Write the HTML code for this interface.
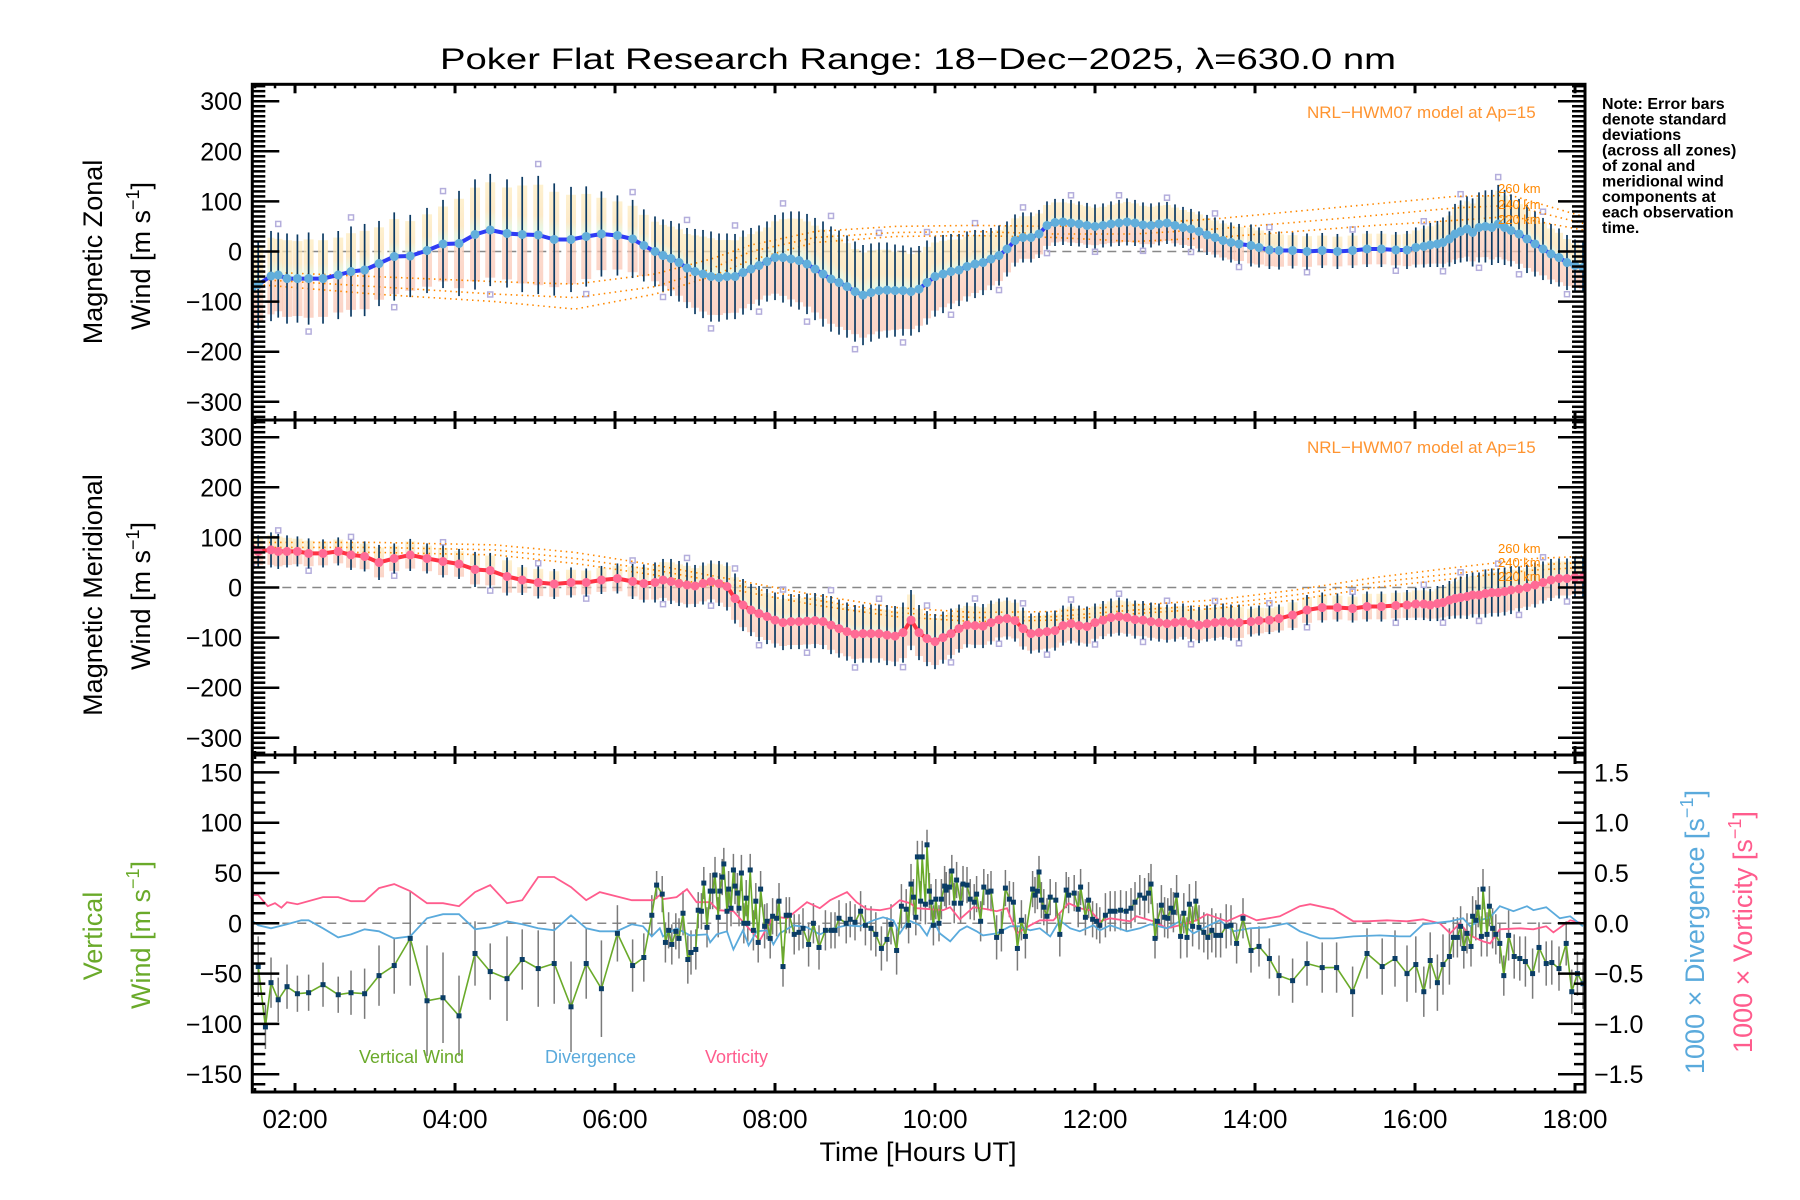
<!DOCTYPE html>
<html><head><meta charset="utf-8"><title>Poker Flat Research Range winds</title>
<style>
html,body{margin:0;padding:0;background:#fff;}
svg{display:block;font-family:"Liberation Sans",sans-serif;}
</style></head>
<body>
<svg id="chart" width="1800" height="1200" viewBox="0 0 1800 1200" xmlns="http://www.w3.org/2000/svg">
<defs>
<linearGradient id="bandGrad" x1="0" y1="0" x2="0" y2="1">
<stop offset="0" stop-color="#fdebbb"/><stop offset="0.3" stop-color="#fce0b0"/>
<stop offset="0.45" stop-color="#dcf4dc"/><stop offset="0.55" stop-color="#fbcdb8"/>
<stop offset="1" stop-color="#f9c2b0"/></linearGradient>
<clipPath id="clip1"><rect x="253" y="86" width="1331" height="333"/></clipPath>
<clipPath id="clip2"><rect x="253" y="422" width="1331" height="332"/></clipPath>
<clipPath id="clip3"><rect x="253" y="757" width="1331" height="334"/></clipPath>
</defs>
<rect x="0" y="0" width="1800" height="1200" fill="#fff"/>
<text x="918" y="69" font-size="30" text-anchor="middle" textLength="956" lengthAdjust="spacingAndGlyphs">Poker Flat Research Range: 18−Dec−2025, λ=630.0 nm</text>
<g id="layer1" clip-path="url(#clip1)"></g>
<g id="layer2" clip-path="url(#clip2)"></g>
<g id="layer3" clip-path="url(#clip3)"></g>
<g id="axes"></g>
<text transform="translate(102,252) rotate(-90)" font-size="27" text-anchor="middle">Magnetic Zonal</text>
<text transform="translate(150,256) rotate(-90)" font-size="27" text-anchor="middle">Wind [m s<tspan font-size="18" dy="-11">−1</tspan><tspan dy="11">]</tspan></text>
<text transform="translate(102,595) rotate(-90)" font-size="27" text-anchor="middle">Magnetic Meridional</text>
<text transform="translate(150,596) rotate(-90)" font-size="27" text-anchor="middle">Wind [m s<tspan font-size="18" dy="-11">−1</tspan><tspan dy="11">]</tspan></text>
<text transform="translate(102,936) rotate(-90)" font-size="27" text-anchor="middle" fill="#6aaa2a">Vertical</text>
<text transform="translate(150,935) rotate(-90)" font-size="27" text-anchor="middle" fill="#6aaa2a">Wind [m s<tspan font-size="18" dy="-11">−1</tspan><tspan dy="11">]</tspan></text>
<text transform="translate(1704,932) rotate(-90)" font-size="27" text-anchor="middle" fill="#5aaadc">1000 × Divergence [s<tspan font-size="18" dy="-11">−1</tspan><tspan dy="11">]</tspan></text>
<text transform="translate(1752,932) rotate(-90)" font-size="27" text-anchor="middle" fill="#ff5c8d">1000 × Vorticity [s<tspan font-size="18" dy="-11">−1</tspan><tspan dy="11">]</tspan></text>
<text x="918" y="1161" font-size="27" text-anchor="middle">Time [Hours UT]</text>
<text x="1307" y="118" font-size="17" fill="#ff9430">NRL−HWM07 model at Ap=15</text>
<text x="1307" y="453" font-size="17" fill="#ff9430">NRL−HWM07 model at Ap=15</text>
<g font-size="13" fill="#ff8800">
<text x="1498" y="193">260 km</text>
<text x="1498" y="209">240 km</text>
<text x="1498" y="224">220 km</text></g>
<g font-size="13" fill="#ff8800">
<text x="1498" y="553">260 km</text>
<text x="1498" y="567">240 km</text>
<text x="1498" y="581">220 km</text></g>
<g font-size="16" font-weight="bold">
<text x="1602" y="109">Note: Error bars</text>
<text x="1602" y="124.5">denote standard</text>
<text x="1602" y="140">deviations</text>
<text x="1602" y="155.5">(across all zones)</text>
<text x="1602" y="171">of zonal and</text>
<text x="1602" y="186.5">meridional wind</text>
<text x="1602" y="202">components at</text>
<text x="1602" y="217.5">each observation</text>
<text x="1602" y="233">time.</text></g>
<text x="359" y="1063" font-size="18" fill="#6aaa2a">Vertical Wind</text>
<text x="545" y="1063" font-size="18" fill="#5aaadc">Divergence</text>
<text x="705" y="1063" font-size="18" fill="#ff5c8d">Vorticity</text>
</svg>
<script>
// ---------- DATA ----------
const obsTimes = [1.46,1.54,1.70,1.79,1.90,2.03,2.17,2.35,2.54,2.70,2.87,3.05,3.24,3.44,3.65,3.85,4.05,4.25,4.44,4.65,4.84,5.04,5.24,5.45,5.64,5.83,6.03,6.22,6.36,
6.5,6.6,6.7,6.8,6.9,7.0,7.1,7.2,7.3,7.4,7.5,7.6,7.7,7.8,7.9,8.0,8.1,8.2,8.3,8.4,8.5,8.6,8.7,8.8,8.9,9.0,9.1,9.2,9.3,9.4,9.5,9.6,9.7,9.8,9.9,10.0,10.1,10.2,10.3,10.4,10.5,10.6,10.7,10.8,10.9,11.0,11.1,11.2,11.3,11.4,11.5,11.6,11.7,11.8,11.9,12.0,12.1,12.2,12.3,12.4,12.5,12.6,12.7,12.8,12.9,13.0,13.1,13.2,13.3,13.4,13.5,13.6,13.7,13.8,
13.95,14.05,14.18,14.30,14.47,14.65,14.84,15.03,15.22,15.40,15.58,15.76,15.90,16.01,16.11,16.19,16.28,16.35,
16.43,16.5,16.57,16.65,16.72,16.8,16.88,16.96,17.04,17.12,17.2,17.3,17.4,17.5,17.6,17.7,17.8,17.9,18.0,18.1];
const zonalMean = [-73,-66,-49,-47,-54,-54,-54,-54,-47,-40,-37,-24,-10,-9,2,15,16,34,43,36,34,33,24,24,30,35,32,25,12,
0,-8,-14,-22,-33,-40,-45,-50,-52,-50,-50,-42,-35,-28,-20,-12,-12,-15,-18,-25,-35,-45,-55,-62,-70,-80,-87,-82,-78,-77,-78,-78,-80,-75,-62,-50,-45,-40,-37,-30,-25,-22,-15,-8,5,22,28,28,35,52,58,59,57,55,52,50,52,55,57,59,57,53,52,55,57,52,48,45,40,33,28,22,18,15,
12,8,3,2,2,0,2,0,2,5,5,3,3,8,10,13,15,18,
25,35,40,45,38,48,50,48,55,48,42,35,25,15,5,-5,-12,-22,-28,-32];
const zonalStd = [92,88,90,85,90,88,92,90,88,90,92,85,88,82,85,88,105,110,112,108,115,118,112,105,100,85,80,78,72,
70,72,75,78,80,85,88,90,88,86,85,84,82,80,80,85,90,95,98,100,102,105,105,104,102,100,100,98,96,95,92,90,88,86,84,80,78,75,72,70,68,65,62,60,55,52,50,50,48,48,47,46,46,45,45,44,44,45,46,47,46,45,44,43,42,42,41,40,40,40,40,40,40,40,
42,40,38,38,36,36,35,35,35,36,36,36,38,40,42,44,46,50,
55,60,62,65,68,70,72,75,78,75,72,70,68,65,62,60,58,55,52,50];
const meridMean = [78,72,75,72,72,72,68,68,72,65,62,50,58,65,58,52,47,36,34,22,15,10,7,10,10,15,18,12,8,
10,15,12,8,5,3,8,12,8,2,-22,-35,-45,-52,-58,-65,-70,-68,-68,-67,-66,-68,-75,-82,-88,-93,-92,-92,-92,-95,-97,-90,-65,-90,-102,-108,-100,-92,-82,-75,-76,-77,-70,-64,-62,-66,-82,-92,-90,-88,-86,-76,-72,-76,-78,-70,-65,-60,-58,-60,-64,-65,-68,-70,-72,-70,-68,-72,-75,-72,-70,-68,-70,-70,
-68,-66,-65,-62,-55,-45,-40,-40,-42,-38,-38,-36,-35,-33,-33,-35,-32,-30,
-25,-22,-20,-18,-15,-15,-12,-10,-10,-8,-5,-3,0,5,10,15,18,18,20,20];
const meridStd = [30,32,35,35,32,30,30,28,28,30,30,35,30,32,30,32,30,35,35,38,30,32,30,30,28,28,30,35,38,
40,42,45,45,45,42,42,42,45,48,50,52,52,55,55,55,55,55,55,55,55,55,58,58,58,58,58,58,58,60,60,60,60,55,55,55,52,50,48,45,45,44,44,42,42,42,42,40,40,40,40,40,40,40,40,38,38,38,38,38,38,38,38,38,38,38,36,36,36,36,36,36,36,36,
30,30,28,28,30,30,30,28,28,30,30,30,30,32,32,32,35,35,
38,40,42,45,45,45,48,48,48,48,48,45,45,45,42,42,40,40,40,40];
const modelTimes = [1.47,3,4.5,5.5,6.5,7.2,7.7,8.5,9.5,10.5,11.5,12.5,13.5,14.5,15.5,16.5,17.2,18.1];
const zonalModel260 = [-40,-50,-60,-65,-45,-15,13,40,50,52,50,55,65,80,95,110,112,70];
const zonalModel240 = [-55,-70,-85,-92,-70,-35,0,28,38,40,35,35,45,58,72,87,92,56];
const zonalModel220 = [-65,-85,-100,-115,-85,-50,-17,18,30,32,28,20,28,40,52,62,70,43];
const meridModelTimes = [1.47,3,4.5,5.5,6.5,7.5,8.5,9.5,10.5,11.5,12.5,13.5,14.5,15.5,16.5,17.5,18.1];
const meridModel260 = [90,90,85,70,45,15,-15,-40,-50,-48,-35,-25,-5,20,40,58,62];
const meridModel240 = [80,80,75,58,35,5,-25,-50,-60,-58,-45,-35,-15,10,28,45,50];
const meridModel220 = [70,70,65,48,25,-5,-35,-58,-68,-65,-52,-42,-25,0,18,35,40];
const vertTimes = [1.54,1.63,1.70,1.79,1.90,2.03,2.17,2.35,2.54,2.70,2.87,3.05,3.24,3.44,3.65,3.85,4.05,4.25,4.44,4.65,4.84,5.04,5.24,5.45,5.64,
5.83,6.03,6.22,6.36,6.46,6.52,6.59,6.63,6.67,6.71,6.76,6.80,6.85,6.91,6.95,7.01,7.04,7.08,7.11,7.15,7.19,7.22,7.25,7.29,7.31,7.34,7.36,7.40,7.42,7.45,7.48,7.50,7.53,7.55,7.58,7.61,7.64,7.66,7.69,7.73,7.76,7.79,7.82,7.87,7.90,7.94,7.97,8.02,8.05,8.10,8.14,8.18,8.24,8.30,8.35,8.42,8.48,8.55,8.63,8.70,8.75,8.80,8.89,8.94,9.00,9.07,9.13,9.20,9.26,9.33,9.40,9.45,9.52,9.58,9.64,9.67,9.70,9.73,9.76,9.78,9.82,9.84,9.88,9.90,9.93,9.95,9.98,10.01,10.05,10.08,10.12,10.14,10.18,10.21,10.24,10.27,10.32,10.35,10.40,10.44,10.49,10.52,10.57,10.61,10.66,10.70,10.77,10.83,10.88,10.93,10.98,11.03,11.08,11.13,11.22,11.25,11.28,11.30,11.33,11.36,11.40,11.44,11.51,11.56,11.64,11.67,11.74,11.79,11.82,11.88,11.92,11.97,12.02,
12.06,12.13,12.19,12.25,12.32,12.39,12.45,12.50,12.56,12.62,12.67,12.70,12.75,12.78,12.83,12.87,12.91,12.95,12.98,13.02,13.07,13.11,13.15,13.18,13.22,13.26,13.30,13.36,13.41,13.46,13.51,13.57,13.64,13.70,13.77,13.85,13.95,14.05,14.18,14.30,14.47,14.65,14.84,15.02,15.22,15.40,15.59,15.75,15.90,16.01,16.11,16.19,16.28,16.35,16.43,16.48,16.53,16.57,16.61,16.65,16.70,16.72,16.76,16.79,16.83,16.85,16.90,16.93,16.97,17.01,17.06,17.11,17.17,17.24,17.31,17.38,17.47,17.55,17.64,17.71,17.80,17.89,17.96,18.03,18.10];
const vertWind = [-43,-103,-59,-76,-63,-70,-69,-61,-71,-69,-70,-52,-42,-15,-77,-74,-92,-30,-48,-55,-36,-45,-40,-83,-40,
-65,-10,-42,-34,8,38,29,-19,-7,-21,-8,-15,10,-36,-29,-26,13,12,40,-4,32,32,48,6,32,46,59,12,34,15,53,37,30,15,50,0,25,0,53,-7,22,-19,34,-3,2,-15,7,5,22,-43,8,8,-11,-9,-5,-21,0,-24,-7,-7,-7,5,0,4,1,12,-2,-5,-11,-25,-16,-1,-27,17,14,-2,39,26,6,66,22,66,19,78,32,21,-2,24,0,24,37,33,36,52,20,43,20,39,38,24,21,29,2,36,31,32,-14,-8,35,24,21,-25,3,-13,34,28,32,51,23,16,7,26,23,-11,33,28,30,14,36,6,23,4,2,
-2,8,12,12,13,12,15,21,28,25,30,39,-15,2,18,6,5,15,11,28,-13,10,-14,19,-3,22,-4,-9,-14,-7,-12,-12,-3,-2,-20,5,-27,-23,-35,-52,-57,-40,-44,-44,-68,-30,-43,-35,-50,-41,-68,-37,-59,-41,-33,-14,-14,-3,-25,-10,-23,7,3,16,-13,34,-11,17,-5,-11,-20,-52,-12,-33,-35,-38,-50,-24,-40,-39,-45,-20,-68,-50,-60];
const vertStd = [30,22,25,22,22,18,18,22,18,22,25,30,28,47,55,45,40,32,28,42,30,38,40,45,35,
48,28,26,24,20,14,18,20,18,20,18,20,22,24,22,20,18,18,16,20,18,18,18,20,18,18,16,20,18,18,16,18,20,18,18,20,18,18,16,20,18,20,18,22,18,20,18,18,18,20,18,18,20,18,20,22,20,22,20,18,18,18,20,18,18,20,20,22,22,22,22,20,24,22,20,18,20,18,18,16,20,16,20,15,18,18,20,20,18,20,20,18,18,16,20,18,20,18,18,20,18,18,20,18,18,20,22,20,18,18,20,22,20,22,18,18,18,16,18,18,18,18,18,22,18,18,18,18,18,18,18,18,18,18,
22,20,20,20,20,20,20,20,20,20,20,20,18,20,20,20,20,20,20,22,20,20,20,20,20,22,20,22,22,22,22,22,20,20,20,22,20,20,20,22,22,25,25,25,25,28,28,28,28,25,28,28,30,28,20,20,20,20,20,20,20,20,20,20,20,22,20,20,20,20,20,25,22,22,25,25,25,22,22,22,22,22,22,25,22];
const vortTimes = [1.46,1.54,1.66,1.75,1.83,1.90,2.03,2.35,2.54,2.70,2.87,3.05,3.24,3.44,3.65,3.85,4.05,4.25,4.44,4.65,4.84,5.04,5.24,5.45,5.64,5.81,6.21,6.48,6.56,6.60,6.77,6.90,7.02,7.19,7.29,7.48,7.65,7.81,7.98,8.15,8.23,8.40,8.56,8.69,8.90,9.02,9.15,9.31,9.44,9.56,9.69,9.77,9.94,10.10,10.19,10.31,10.48,10.65,10.77,10.90,11.02,11.19,11.31,11.48,11.67,11.81,11.94,12.06,12.19,12.44,12.52,12.73,12.90,13.06,13.27,13.40,13.65,13.85,14.02,14.31,14.56,14.69,14.98,15.23,15.40,15.65,15.90,16.10,16.31,16.44,16.56,16.69,16.85,16.94,17.06,17.31,17.48,17.64,17.73,17.94,18.10];
const vortValues = [0.28,0.28,0.17,0.20,0.155,0.21,0.19,0.26,0.26,0.22,0.22,0.35,0.39,0.32,0.20,0.20,0.17,0.31,0.38,0.20,0.23,0.46,0.46,0.36,0.23,0.31,0.23,0.23,0.28,0.24,0.26,0.34,0.21,0.21,0.13,0.12,-0.03,-0.17,0.07,0.05,0.10,0.21,0.15,0.23,0.31,0.21,0.14,0.13,0.15,0.23,0.20,0.15,0.14,0.13,0.16,0.04,0.16,0.14,0.12,0.15,-0.10,-0.02,0.03,0.03,0.20,0.15,0.13,0.02,0.05,0.02,0.07,0.02,-0.05,-0.02,0.03,0.09,0.02,0.09,0.03,0.07,0.17,0.19,0.14,0.02,0.02,0.03,0.02,0.04,0.0,-0.10,0.0,-0.12,-0.18,-0.20,-0.06,-0.05,-0.06,-0.03,-0.09,0.03,0.0];
const divTimes = [1.46,1.54,1.70,1.90,2.08,2.17,2.35,2.54,2.70,2.87,3.05,3.24,3.44,3.65,3.85,4.05,4.25,4.44,4.65,4.84,5.04,5.24,5.45,5.64,5.81,6.02,6.21,6.35,6.46,6.56,6.60,6.77,6.94,7.15,7.19,7.27,7.40,7.48,7.60,7.67,7.77,7.90,7.98,8.06,8.23,8.40,8.56,8.73,8.90,9.06,9.23,9.35,9.48,9.56,9.67,9.81,9.90,9.98,10.06,10.19,10.31,10.40,10.52,10.60,10.77,10.94,11.06,11.19,11.31,11.44,11.56,11.69,11.81,11.98,12.06,12.19,12.40,12.56,12.69,12.90,13.06,13.23,13.40,13.56,13.73,13.94,14.15,14.40,14.56,14.81,14.98,15.23,15.56,15.81,15.94,16.10,16.44,16.60,16.69,16.81,16.94,17.06,17.23,17.40,17.48,17.64,17.81,17.94,18.10];
const divValues = [0.03,-0.02,-0.05,-0.01,0.03,0.03,-0.05,-0.14,-0.11,-0.06,-0.08,-0.15,-0.13,0.05,0.09,0.09,-0.06,-0.04,0.02,-0.01,-0.05,-0.07,0.08,-0.05,-0.08,-0.08,-0.01,-0.03,-0.13,-0.05,-0.13,-0.05,-0.12,-0.11,-0.19,-0.11,-0.08,-0.26,-0.07,-0.22,-0.08,-0.07,-0.21,-0.10,-0.02,-0.04,-0.11,-0.05,-0.02,-0.03,0.03,0.06,0.03,-0.10,0.03,-0.02,-0.12,0.03,-0.10,-0.18,-0.07,-0.03,-0.08,-0.12,-0.10,-0.03,-0.03,-0.07,-0.05,-0.13,0.03,-0.05,-0.08,-0.02,-0.07,-0.02,-0.08,-0.05,-0.01,-0.05,0.02,-0.10,-0.03,0.03,-0.08,-0.05,-0.04,0.0,-0.08,-0.15,-0.15,-0.13,-0.12,-0.13,-0.13,-0.01,0.02,0.05,-0.03,0.03,0.06,0.17,0.12,0.17,0.13,0.16,0.05,0.07,-0.03];
const xTickLabels = ["02:00","04:00","06:00","08:00","10:00","12:00","14:00","16:00","18:00"];
const windTickLabels = ["300","200","100","0","−100","−200","−300"];
const vertTickLabels = ["150","100","50","0","−50","−100","−150"];
const rightTickLabels = ["1.5","1.0","0.5","0.0","−0.5","−1.0","−1.5"];

// ---------- SCALES ----------
const NS = "http://www.w3.org/2000/svg";
const T0 = 1.466, T1 = 18.125, LEFT = 252.3, RIGHT = 1585;
function xs(t){ return LEFT + (t - T0) * (RIGHT - LEFT) / (T1 - T0); }
const P = [
  {top:84.3, bot:420, zero:251.5, k:0.501},
  {top:420, bot:755, zero:587.5, k:0.501},
  {top:755, bot:1092, zero:923.3, k:1.006}
];
function ys(p, v){ return P[p].zero - v * P[p].k; }
function yr(v){ return P[2].zero - v * 100.6; }
function mk(tag, attrs, parent){
  const el = document.createElementNS(NS, tag);
  for (const k in attrs) el.setAttribute(k, attrs[k]);
  parent.appendChild(el);
  return el;
}
const L1 = document.getElementById('layer1');
const L2 = document.getElementById('layer2');
const L3 = document.getElementById('layer3');
const AX = document.getElementById('axes');

// ---------- horizontal wind panels ----------
function drawHorizontal(layer, p, mean, std, lineColor, dotColor, mTimes, models, nm){
  let z = mk('line', {x1:LEFT, x2:RIGHT, y1:ys(p,0), y2:ys(p,0), stroke:'#888', 'stroke-width':1.5, 'stroke-dasharray':'9,6'}, layer);
  
  
  for (let i = 0; i < obsTimes.length; i++){
    const x = xs(obsTimes[i]);
    const nx = i < obsTimes.length - 1 ? xs(obsTimes[i+1]) : x + 8;
    const w = Math.min(10, Math.max(5, nx - x));
    const yT = ys(p, mean[i] + 0.85 * std[i]), yB = ys(p, mean[i] - 0.85 * std[i]);
    const b = mk('rect', {x:x - w/2, y:yT, width:w, height:yB - yT, fill:'url(#bandGrad)', opacity:0.7}, layer);
    
    
  }
  for (let i = 0; i < obsTimes.length; i++){
    if (i % 3 !== 0) continue;
    const x = xs(obsTimes[i]);
    const kf = (i % 2 === 0) ? -1.15 : 1.2;
    const y = ys(p, mean[i] + kf * std[i]);
    const s = mk('rect', {x:x - 2.5, y:y - 2.5, width:5, height:5, fill:'none', stroke:'#b4aedc', 'stroke-width':1.5}, layer);
    
    
  }
  models.forEach((mv, j) => {
    const pts = mTimes.map((t, i) => xs(t).toFixed(1) + ',' + ys(p, mv[i]).toFixed(1)).join(' ');
    const pl = mk('polyline', {points:pts, fill:'none', stroke:'#ff8800', 'stroke-width':1.6, 'stroke-dasharray':'1.5,4'}, layer);
    
    
  });
  for (let i = 0; i < obsTimes.length; i++){
    const x = xs(obsTimes[i]);
    const e = mk('line', {x1:x, x2:x, y1:ys(p, mean[i] + std[i]), y2:ys(p, mean[i] - std[i]), stroke:'#0b3a63', 'stroke-width':1.7}, layer);
    
    
  }
  const pts = obsTimes.map((t, i) => xs(t).toFixed(1) + ',' + ys(p, mean[i]).toFixed(1)).join(' ');
  const ml = mk('polyline', {points:pts, fill:'none', stroke:lineColor, 'stroke-width':4, 'stroke-linejoin':'round'}, layer);
  
  
  for (let i = 0; i < obsTimes.length; i++){
    const c = mk('circle', {cx:xs(obsTimes[i]), cy:ys(p, mean[i]), r:4.5, fill:dotColor}, layer);
    
    
  }
}
drawHorizontal(L1, 0, zonalMean, zonalStd, '#2f3cf5', '#62aedb', modelTimes, [zonalModel260, zonalModel240, zonalModel220], 'zonal');
drawHorizontal(L2, 1, meridMean, meridStd, '#ff3344', '#ff6b95', meridModelTimes, [meridModel260, meridModel240, meridModel220], 'meridional');

// ---------- vertical panel ----------
(function(){
  const z = mk('line', {x1:LEFT, x2:RIGHT, y1:ys(2,0), y2:ys(2,0), stroke:'#888', 'stroke-width':1.5, 'stroke-dasharray':'9,6'}, L3);
  
  
  for (let i = 0; i < vertTimes.length; i++){
    const x = xs(vertTimes[i]);
    const e = mk('line', {x1:x, x2:x, y1:ys(2, vertWind[i] + vertStd[i]), y2:ys(2, vertWind[i] - vertStd[i]), stroke:'#7a7a7a', 'stroke-width':1.5}, L3);
    
    
  }
  const vp = vortTimes.map((t, i) => xs(t).toFixed(1) + ',' + yr(vortValues[i]).toFixed(1)).join(' ');
  const vl = mk('polyline', {points:vp, fill:'none', stroke:'#ff5c8d', 'stroke-width':1.8}, L3);
  
  
  const dp = divTimes.map((t, i) => xs(t).toFixed(1) + ',' + yr(divValues[i]).toFixed(1)).join(' ');
  const dl = mk('polyline', {points:dp, fill:'none', stroke:'#5aaadc', 'stroke-width':1.8}, L3);
  
  
  const wp = vertTimes.map((t, i) => xs(t).toFixed(1) + ',' + ys(2, vertWind[i]).toFixed(1)).join(' ');
  const wl = mk('polyline', {points:wp, fill:'none', stroke:'#6aaa2a', 'stroke-width':1.6}, L3);
  
  
  for (let i = 0; i < vertTimes.length; i++){
    const m = mk('rect', {x:xs(vertTimes[i]) - 2.5, y:ys(2, vertWind[i]) - 2.5, width:5, height:5, fill:'#0a3d66'}, L3);
    
    
  }
})();

// ---------- AXES ----------
function tickLine(x1, y1, x2, y2, w, name){
  const l = mk('line', {x1:x1, y1:y1, x2:x2, y2:y2, stroke:'#000', 'stroke-width':w}, AX);
  
  
}
function label(x, y, txt, anchor, size, name){
  const t = mk('text', {x:x, y:y, 'text-anchor':anchor, 'font-size':size}, AX);
  t.textContent = txt;
  
  
}
const fr = mk('rect', {x:LEFT, y:P[0].top, width:RIGHT - LEFT, height:P[2].bot - P[0].top, fill:'none', stroke:'#000', 'stroke-width':3}, AX);


tickLine(LEFT, P[0].bot, RIGHT, P[0].bot, 3, 'panel-divider');
tickLine(LEFT, P[1].bot, RIGHT, P[1].bot, 3, 'panel-divider');
const hLines = [{y:P[0].top, up:0, dn:1}, {y:P[0].bot, up:1, dn:1}, {y:P[1].bot, up:1, dn:1}, {y:P[2].bot, up:1, dn:0}];
for (let q = 0; q * 0.25 + 1.5 <= 18.1; q++){
  const t = 1.5 + q * 0.25;
  const x = xs(t);
  const major = Math.abs(t / 2 - Math.round(t / 2)) < 1e-6;
  const len = major ? 9 : 4;
  for (const h of hLines){
    tickLine(x, h.y - len * h.up, x, h.y + len * h.dn, major ? 3 : 2.5, major ? 'x-major-tick' : 'x-minor-tick');
  }
}
xTickLabels.forEach((s, i) => label(xs(2 + 2 * i), 1128, s, 'middle', 26, 'x-tick-label'));
for (let p = 0; p < 2; p++){
  for (let v = -330; v <= 330; v += 10){
    const y = ys(p, v);
    const major = v % 100 === 0;
    const len = major ? 27 : 13;
    tickLine(LEFT, y, LEFT + len, y, 2.5, major ? 'y-major-tick' : 'y-minor-tick');
    tickLine(RIGHT - len, y, RIGHT, y, 2.5, major ? 'y-major-tick-right' : 'y-minor-tick-right');
  }
  windTickLabels.forEach((s, i) => label(242, ys(p, 300 - 100 * i) + 9, s, 'end', 25, 'y-tick-label'));
}
for (let v = -160; v <= 160; v += 10){
  const y = ys(2, v);
  const major = v % 50 === 0;
  tickLine(LEFT, y, LEFT + (major ? 27 : 13), y, 2.5, major ? 'y-major-tick' : 'y-minor-tick');
}
vertTickLabels.forEach((s, i) => label(242, ys(2, 150 - 50 * i) + 9, s, 'end', 25, 'vertical-y-tick-label'));
for (let q = -16; q <= 16; q++){
  const y = yr(q / 10);
  const major = q % 5 === 0;
  tickLine(RIGHT - (major ? 27 : 11), y, RIGHT, y, 2.5, major ? 'right-major-tick' : 'right-minor-tick');
}
rightTickLabels.forEach((s, i) => label(1594, yr(1.5 - 0.5 * i) + 9, s, 'start', 25, 'right-tick-label'));
</script>
</body></html>
